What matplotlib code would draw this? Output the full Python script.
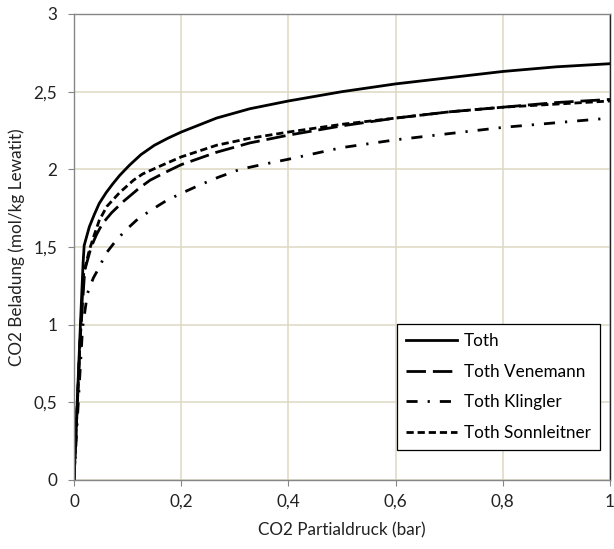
import matplotlib
matplotlib.use("Agg")
import matplotlib.pyplot as plt
from matplotlib.ticker import FuncFormatter

# CO2 partial pressure (bar) and loading (mol/kg Lewatit) for each Toth fit
toth_p = [0, 0.006, 0.012, 0.017, 0.019, 0.0286, 0.038, 0.047, 0.060, 0.072, 0.085,
          0.103, 0.125, 0.150, 0.175, 0.2, 0.266, 0.328, 0.4, 0.5, 0.6, 0.7, 0.8, 0.9, 1.0]
toth_q = [0, 0.50, 1.00, 1.40, 1.51, 1.63, 1.71, 1.78, 1.85, 1.905, 1.96,
          2.025, 2.095, 2.155, 2.20, 2.24, 2.33, 2.39, 2.44, 2.50, 2.55, 2.59, 2.63, 2.66, 2.68]

venemann_p = [0, 0.006, 0.012, 0.020, 0.032, 0.042, 0.053, 0.070, 0.091, 0.122, 0.142,
              0.170, 0.2, 0.266, 0.328, 0.4, 0.5, 0.6, 0.7, 0.8, 0.9, 1.0]
venemann_q = [0, 0.47, 0.93, 1.35, 1.50, 1.58, 1.65, 1.72, 1.79, 1.88, 1.93,
              1.98, 2.03, 2.11, 2.17, 2.22, 2.28, 2.33, 2.37, 2.40, 2.43, 2.45]

klingler_p = [0, 0.008, 0.016, 0.025, 0.036, 0.044, 0.060, 0.078, 0.097, 0.119, 0.145,
              0.173, 0.2, 0.235, 0.27, 0.31, 0.35, 0.4, 0.5, 0.6, 0.7, 0.8, 0.9, 1.0]
klingler_q = [0, 0.50, 0.98, 1.20, 1.30, 1.35, 1.46, 1.54, 1.61, 1.68, 1.74,
              1.80, 1.845, 1.90, 1.95, 2.00, 2.03, 2.065, 2.14, 2.19, 2.23, 2.27, 2.30, 2.33]

sonnleitner_p = [0, 0.006, 0.012, 0.018, 0.0286, 0.038, 0.047, 0.061, 0.085, 0.111, 0.128,
                 0.160, 0.2, 0.266, 0.328, 0.4, 0.5, 0.6, 0.7, 0.8, 0.9, 1.0]
sonnleitner_q = [0, 0.48, 0.95, 1.33, 1.48, 1.58, 1.67, 1.76, 1.85, 1.93, 1.97,
                 2.02, 2.08, 2.155, 2.20, 2.24, 2.29, 2.33, 2.37, 2.40, 2.42, 2.44]

plt.rcParams["font.family"] = ["Lato", "DejaVu Sans"]
plt.rcParams["font.size"] = 12.3

fig = plt.figure(figsize=(6.14, 5.49), dpi=100)
ax = fig.add_axes([74 / 614, 69 / 549, 536 / 614, 466 / 549])

grid_col = "#ddd9c3"
axis_col = "#868686"
text_col = "#222222"

lw = 2.0
ax.plot(toth_p, toth_q, color="black", lw=lw, ls="-", label="Toth")
ax.plot(venemann_p, venemann_q, color="black", lw=lw, ls=(0, (7, 2.5)), label="Toth Venemann")
ax.plot(klingler_p, klingler_q, color="black", lw=lw, ls=(0, (4, 3.6, 0.8, 3.6)), label="Toth Klingler")
ax.plot(sonnleitner_p, sonnleitner_q, color="black", lw=lw, ls=(0, (2.6, 1.4)), label="Toth Sonnleitner")

ax.set_xlim(0, 1)
ax.set_ylim(0, 3)
ax.set_xticks([0, 0.2, 0.4, 0.6, 0.8, 1.0])
ax.set_yticks([0, 0.5, 1, 1.5, 2, 2.5, 3])
comma = FuncFormatter(lambda v, pos: ("%g" % v).replace(".", ","))
ax.xaxis.set_major_formatter(comma)
ax.yaxis.set_major_formatter(comma)

ax.grid(True, color=grid_col, lw=1.1)
ax.set_axisbelow(True)
for side in ["left", "bottom", "top"]:
    ax.spines[side].set_color(axis_col)
    ax.spines[side].set_linewidth(1.0)
ax.spines["right"].set_color(text_col)
ax.spines["right"].set_linewidth(1.0)
ax.tick_params(direction="out", length=4, color=axis_col, labelcolor=text_col)
ax.tick_params(axis="x", pad=6)
ax.tick_params(axis="y", pad=8)

ax.set_xlabel("CO2 Partialdruck (bar)", color=text_col, labelpad=9)
ax.set_ylabel("CO2 Beladung (mol/kg Lewatit)", color=text_col, labelpad=6)

leg = ax.legend(loc="upper left", bbox_to_anchor=((396.5 - 74) / 536, (480 - 324) / 466),
                frameon=True, fancybox=False, edgecolor="black", framealpha=1,
                handlelength=3.0, labelspacing=0.85, handletextpad=0.4,
                borderpad=0.55, borderaxespad=0, fontsize=12.3)
leg.get_frame().set_linewidth(0.9)

fig.savefig("out.png", dpi=100)
